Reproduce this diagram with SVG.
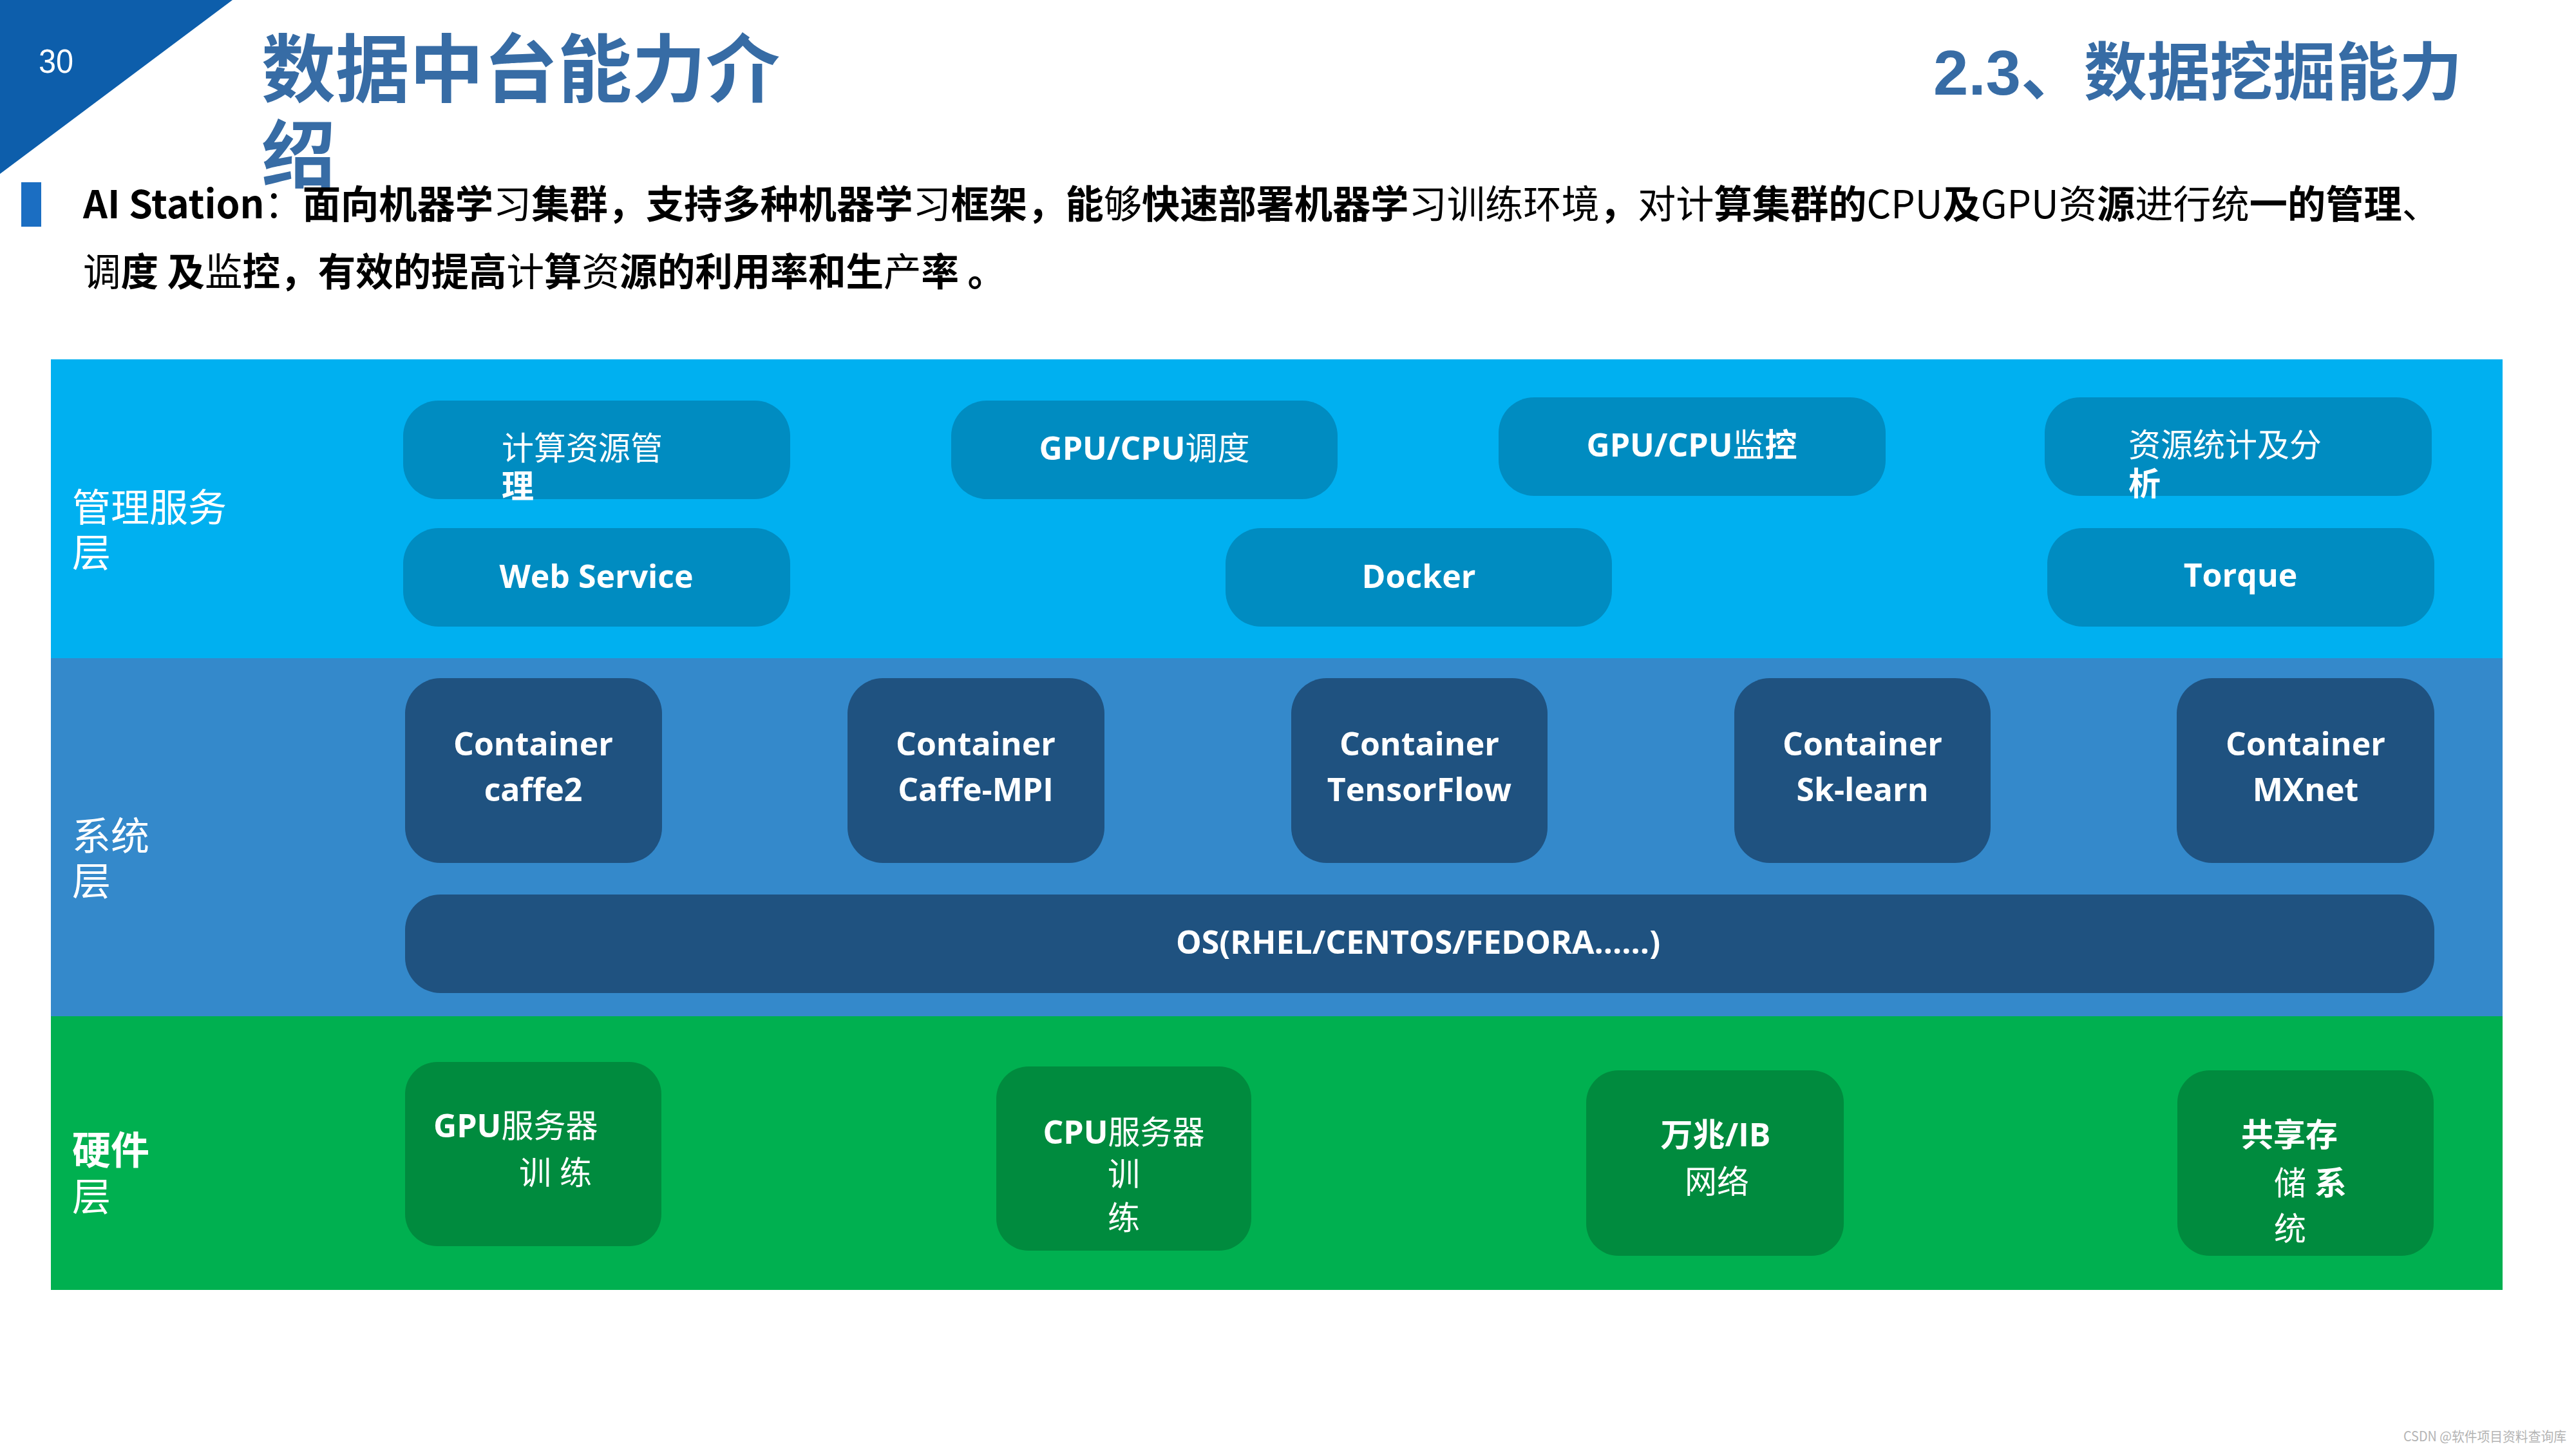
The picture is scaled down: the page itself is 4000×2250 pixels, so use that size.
<svg xmlns="http://www.w3.org/2000/svg" width="4000" height="2250" viewBox="0 0 4000 2250">
<style>
.cj{font-family:'Noto Sans CJK SC','Noto Sans',sans-serif}
.bt{font-family:'Open Sans','Noto Sans CJK SC',sans-serif;font-weight:700;font-size:50px;fill:#fff}
.lt{font-family:'Noto Sans CJK SC',sans-serif;font-weight:400;font-size:60px;fill:#fff}
.n{font-weight:400}
.b{font-weight:700}
.mg{fill:#008cc1}
.sy{fill:#1f5280}
.hw{fill:#008b3e}
.body{font-family:'Noto Sans CJK SC',sans-serif;font-weight:700;font-size:60px;fill:#000}
</style>
<rect width="4000" height="2250" fill="#ffffff"/>
<g id="header">
<polygon points="0,0 361,0 0,270" fill="#0d5eab"/>
<text x="60" y="113" font-family="'Liberation Sans',sans-serif" font-size="52" fill="#ffffff" textLength="54" lengthAdjust="spacingAndGlyphs">30</text>
<text class="cj" font-weight="700" font-size="115" fill="#376ca5"><tspan x="406" y="149">数据中台能力介</tspan><tspan x="406" y="282">绍</tspan></text>
<text x="3002" y="147" font-family="'Liberation Sans','Noto Sans CJK SC',sans-serif" font-weight="700" font-size="98" fill="#376ca5" textLength="821" lengthAdjust="spacingAndGlyphs">2.3、数据挖掘能力</text>
<rect x="33" y="283" width="31" height="69" fill="#1b6ec2"/>
<text class="body" x="129" y="339" textLength="3660" lengthAdjust="spacingAndGlyphs"><tspan>AI Station</tspan><tspan class="n">：</tspan><tspan>面向机器学</tspan><tspan class="n">习</tspan><tspan>集群，支持多种机器学</tspan><tspan class="n">习</tspan><tspan>框架，能</tspan><tspan class="n">够</tspan><tspan>快速部署机器学</tspan><tspan class="n">习训练环境</tspan><tspan>，</tspan><tspan class="n">对计</tspan><tspan>算集群的</tspan><tspan class="n">CPU</tspan><tspan>及</tspan><tspan class="n">GPU资</tspan><tspan>源</tspan><tspan class="n">进行统</tspan><tspan>一的管理</tspan><tspan class="n">、</tspan></text>
<text class="body" x="129" y="444" textLength="1432" lengthAdjust="spacingAndGlyphs"><tspan class="n">调</tspan><tspan>度 及</tspan><tspan class="n">监</tspan><tspan>控，有效的提高</tspan><tspan class="n">计</tspan><tspan>算</tspan><tspan class="n">资</tspan><tspan>源的利用率和生</tspan><tspan class="n">产</tspan><tspan>率 。</tspan></text>
</g>
<g id="layer-mgmt">
<rect x="79" y="558" width="3807" height="464" fill="#00b0f0"/>
<text class="lt"><tspan x="112" y="810">管理服务</tspan><tspan x="112" y="880">层</tspan></text>
</g>
<g id="layer-system">
<rect x="79" y="1022" width="3807" height="556" fill="#3489cb"/>
<text class="lt"><tspan x="112" y="1320">系统</tspan><tspan x="112" y="1390">层</tspan></text>
</g>
<g id="layer-hardware">
<rect x="79" y="1578" width="3807" height="425" fill="#00b050"/>
<text class="lt"><tspan x="112" y="1808" class="b">硬件</tspan><tspan x="112" y="1880">层</tspan></text>
</g>
<g id="n-compute-mgmt">
<rect class="mg" x="626" y="622" width="601" height="153" rx="55"/>
<text class="bt"><tspan x="779" y="714" class="n">计算资源管</tspan><tspan x="779" y="773">理</tspan></text>
</g>
<g id="n-gpu-sched">
<rect class="mg" x="1477" y="622" width="600" height="153" rx="55"/>
<text class="bt" x="1777" y="714" text-anchor="middle">GPU/CPU<tspan class="n">调度</tspan></text>
</g>
<g id="n-gpu-mon">
<rect class="mg" x="2327" y="617" width="601" height="153" rx="55"/>
<text class="bt" x="2627" y="709" text-anchor="middle">GPU/CPU<tspan class="n">监</tspan>控</text>
</g>
<g id="n-stats">
<rect class="mg" x="3175" y="617" width="601" height="153" rx="55"/>
<text class="bt"><tspan x="3305" y="709" class="n">资源统计及分</tspan><tspan x="3305" y="769">析</tspan></text>
</g>
<g id="n-web">
<rect class="mg" x="626" y="820" width="601" height="153" rx="55"/>
<text class="bt" x="926" y="913" text-anchor="middle">Web Service</text>
</g>
<g id="n-docker">
<rect class="mg" x="1903" y="820" width="600" height="153" rx="55"/>
<text class="bt" x="2203" y="913" text-anchor="middle">Docker</text>
</g>
<g id="n-torque">
<rect class="mg" x="3179" y="820" width="601" height="153" rx="55"/>
<text class="bt" x="3479" y="911" text-anchor="middle">Torque</text>
</g>
<g id="n-caffe2">
<rect class="sy" x="629" y="1053" width="399" height="287" rx="55"/>
<text class="bt" text-anchor="middle"><tspan x="828" y="1173">Container</tspan><tspan x="828" y="1244">caffe2</tspan></text>
</g>
<g id="n-caffempi">
<rect class="sy" x="1316" y="1053" width="399" height="287" rx="55"/>
<text class="bt" text-anchor="middle"><tspan x="1515" y="1173">Container</tspan><tspan x="1515" y="1244">Caffe-MPI</tspan></text>
</g>
<g id="n-tensorflow">
<rect class="sy" x="2005" y="1053" width="398" height="287" rx="55"/>
<text class="bt" text-anchor="middle"><tspan x="2204" y="1173">Container</tspan><tspan x="2204" y="1244">TensorFlow</tspan></text>
</g>
<g id="n-sklearn">
<rect class="sy" x="2693" y="1053" width="398" height="287" rx="55"/>
<text class="bt" text-anchor="middle"><tspan x="2892" y="1173">Container</tspan><tspan x="2892" y="1244">Sk-learn</tspan></text>
</g>
<g id="n-mxnet">
<rect class="sy" x="3380" y="1053" width="400" height="287" rx="55"/>
<text class="bt" text-anchor="middle"><tspan x="3580" y="1173">Container</tspan><tspan x="3580" y="1244">MXnet</tspan></text>
</g>
<g id="n-os">
<rect class="sy" x="629" y="1389" width="3151" height="153" rx="55"/>
<text class="bt" x="2202" y="1481" text-anchor="middle">OS(RHEL/CENTOS/FEDORA......)</text>
</g>
<g id="n-gpu-server">
<rect class="hw" x="629" y="1649" width="398" height="286" rx="50"/>
<text class="bt"><tspan x="673" y="1766">GPU<tspan class="n">服务器</tspan></tspan><tspan x="806" y="1839" class="n">训 练</tspan></text>
</g>
<g id="n-cpu-server">
<rect class="hw" x="1547" y="1656" width="396" height="286" rx="50"/>
<text class="bt" text-anchor="middle"><tspan x="1745" y="1776">CPU<tspan class="n">服务器</tspan></tspan><tspan x="1745" y="1841" class="n">训</tspan><tspan x="1745" y="1909" class="n">练</tspan></text>
</g>
<g id="n-network">
<rect class="hw" x="2463" y="1662" width="400" height="288" rx="50"/>
<text class="bt" text-anchor="middle"><tspan x="2664" y="1780">万兆/IB</tspan><tspan x="2666" y="1853" class="n">网络</tspan></text>
</g>
<g id="n-storage">
<rect class="hw" x="3381" y="1662" width="398" height="288" rx="50"/>
<text class="bt"><tspan x="3480" y="1780">共享存</tspan><tspan x="3531" y="1855"><tspan class="n">储</tspan> 系</tspan><tspan x="3531" y="1926" class="n">统</tspan></text>
</g>
<g id="connectors"></g>
<text x="3732" y="2238" font-family="'Noto Sans CJK SC',sans-serif" font-size="21" fill="#b4b4b4" textLength="253" lengthAdjust="spacingAndGlyphs">CSDN @软件项目资料查询库</text>
</svg>
